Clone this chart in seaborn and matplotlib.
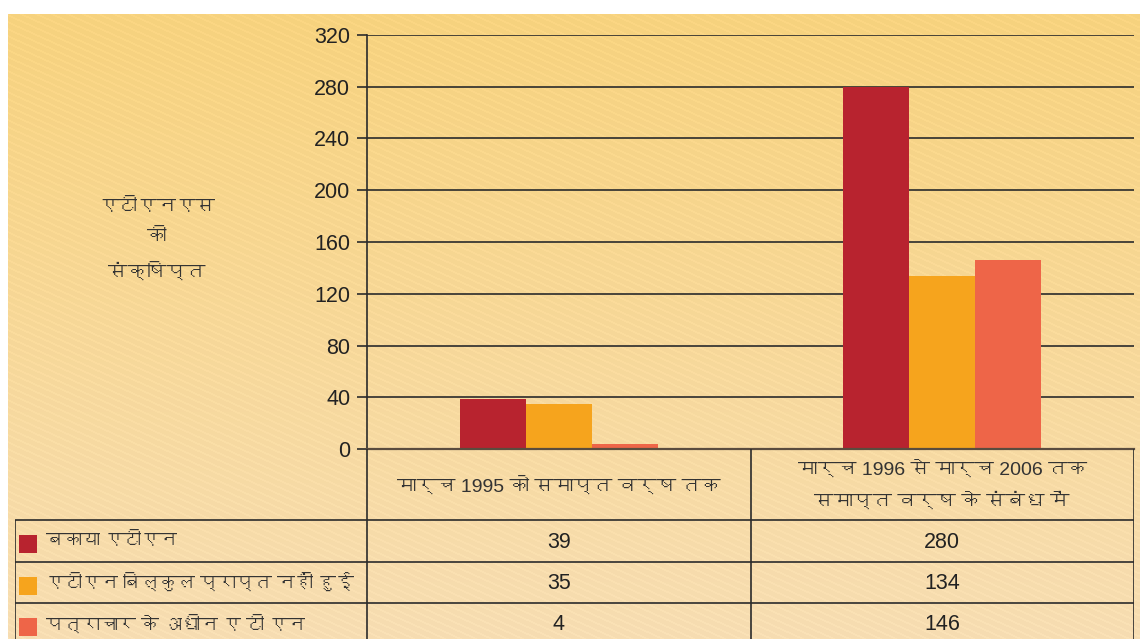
import numpy as np
import pandas as pd
import matplotlib
matplotlib.use("Agg")
import matplotlib.pyplot as plt
import seaborn as sns
from matplotlib import font_manager
from matplotlib.ft2font import FT2Font

# data
periods = ["मार्च 1995 को समाप्त वर्ष तक",
           "मार्च 1996 से मार्च 2006 तक\nसमाप्त वर्ष के संबंध में"]
series = ["बकाया एटीएन", "एटीएन बिल्कुल प्राप्त नहीं हुई", "पत्राचार के अधीन ए टी एन"]
outstanding = [39, 280]
not_received = [35, 134]
under_corr = [4, 146]
colors = ["#B8232F", "#F6A41D", "#EE6548"]
yticks = [0, 40, 80, 120, 160, 200, 240, 280, 320]
ylabel = "एटीएनएस\nकी\nसंक्षिप्त"


def find_font(ch):
    # look for any installed font that has a glyph for ch
    seen = set()
    for f in font_manager.fontManager.ttflist:
        if f.fname in seen:
            continue
        seen.add(f.fname)
        try:
            if ord(ch) in FT2Font(f.fname).get_charmap():
                return f.name
        except Exception:
            continue
    return None


deva = find_font("क")
fams = ["Liberation Sans"] + ([deva] if deva else []) + ["DejaVu Sans"]
plt.rcParams["font.family"] = fams
plt.rcParams["axes.unicode_minus"] = False

values = [outstanding, not_received, under_corr]
df = pd.DataFrame({
    "period": [p for s in values for p in periods],
    "series": [series[i] for i, s in enumerate(values) for _ in periods],
    "value": [v for s in values for v in s],
})

W, H = 1140, 639
fig = plt.figure(figsize=(W / 100, H / 100), dpi=100)
fig.patch.set_facecolor("white")

# yellow background panel with faint diagonal texture
bg = fig.add_axes([8 / W, 0, (W - 8) / W, (H - 14) / H])
bh, bw = H - 14, W - 8
t = np.linspace(0, 1, bh)[:, None, None]
top = np.array([247, 210, 126]) / 255
bot = np.array([246, 221, 178]) / 255
img = top * (1 - t) + bot * t
img = np.repeat(img, bw, axis=1)
yy, xx = np.mgrid[0:bh, 0:bw]
stripe = ((yy - 0.45 * xx) % 7) < 2
img = np.clip(img + stripe[..., None] * 0.018, 0, 1)
bg.imshow(img, aspect="auto", interpolation="none")
bg.axis("off")

# main bar axes
x0, x1 = 367, 1134
y0, y1 = 449, 35
ax = fig.add_axes([x0 / W, (H - y0) / H, (x1 - x0) / W, (y0 - y1) / H])
ax.set_facecolor("none")
sns.barplot(data=df, x="period", y="value", hue="series", order=periods,
            hue_order=series, palette=colors, width=0.517, saturation=1,
            errorbar=None, legend=False, linewidth=0, ax=ax)
ax.set_ylim(0, 320)
ax.set_xlim(-0.5, 1.5)
ax.set_yticks(yticks)
ax.set_yticklabels([str(v) for v in yticks], fontsize=15.5, color="#222222")
ax.set_xticks([])
ax.set_xlabel("")
ax.set_ylabel("")
ax.yaxis.grid(True, color="#2b2b2b", linewidth=1.2)
ax.set_axisbelow(True)
for s in ["top", "right"]:
    ax.spines[s].set_visible(False)
ax.spines["left"].set_color("#2b2b2b")
ax.spines["left"].set_linewidth(1.2)
ax.spines["bottom"].set_color("#5a4c3e")
ax.spines["bottom"].set_linewidth(1.6)
ax.tick_params(axis="y", length=7, width=1.2, color="#2b2b2b", pad=5)

fig.text(157 / W, 1 - 240 / H, ylabel, ha="center", va="center",
         fontsize=14, color="#333333", linespacing=2.05)

# table under the chart, columns lined up with the categories
unit = (x1 - x0) / 2
tl = 15
tx = fig.add_axes([tl / W, 0, (x1 - tl) / W, (H - y0) / H])
tx.set_facecolor("none")
xl = -0.5 - (x0 - tl) / unit
tx.set_xlim(xl, 1.5)
tx.set_ylim(H - y0, 0)
tx.axis("off")
lc = "#2b2b2b"
rows = [71, 113, 154, 196]
tx.hlines(rows[:3], xl, 1.5, color=lc, lw=1.2)
tx.vlines([-0.5, 0.5, 1.5], 0, H - y0, color=lc, lw=1.2)
tx.vlines([xl], rows[0], H - y0, color=lc, lw=1.2)

for i, p in enumerate(periods):
    tx.text(i, 37, p, ha="center", va="center", fontsize=14,
            color="#333333", linespacing=1.95)

for r, (name, vals, c) in enumerate(zip(series, values, colors)):
    yc = (rows[r] + rows[r + 1]) / 2 + 1
    tx.scatter([xl + 13 / unit], [yc + 2], marker="s", s=150, color=c,
               linewidths=0, clip_on=False)
    tx.text(xl + 31 / unit, yc, name, ha="left", va="center", fontsize=13,
            color="#333333")
    for i, v in enumerate(vals):
        tx.text(i, yc, str(v), ha="center", va="center", fontsize=15.5,
                color="#222222")

fig.savefig("out.png", dpi=100)
